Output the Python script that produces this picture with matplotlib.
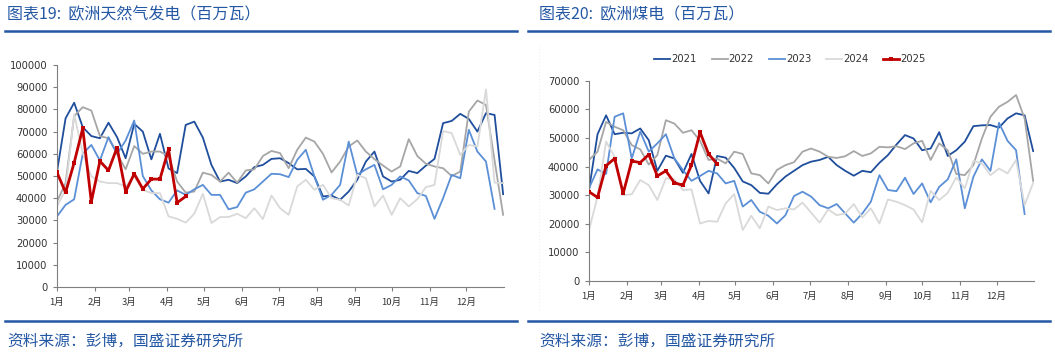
import matplotlib
matplotlib.use("Agg")
import matplotlib.pyplot as plt
from matplotlib.lines import Line2D
import numpy as np

plt.rcParams['font.family'] = ['DejaVu Sans', 'Noto Sans CJK SC']

# ---------------- data ----------------
years = ["2021", "2022", "2023", "2024", "2025"]
month_labels = ["1月", "2月", "3月", "4月", "5月", "6月", "7月", "8月", "9月", "10月", "11月", "12月"]
month_start_day = [0, 31, 59, 90, 120, 151, 181, 212, 243, 273, 304, 334]

gas_2021 = [52000, 76000, 83000, 72000, 68000, 67000, 74000, 67500, 58000, 73500, 70000, 57500, 69000,
            53400, 51300, 73000, 74500, 67300, 55000, 47500, 48300, 46800, 49800, 54000, 55000, 57700,
            58000, 55800, 53000, 53200, 49800, 40800, 41200, 39300, 43000, 48300, 56500, 61000, 49800,
            47500, 48300, 52300, 51300, 54700, 57700, 73800, 74800, 78000, 75700, 70000, 78300, 77500, 41800]
gas_2022 = [38500, 46800, 77000, 81000, 79500, 68000, 67000, 60000, 53000, 63500, 60000, 61000, 61000,
            59000, 47500, 42500, 43000, 51500, 50500, 47500, 51500, 47000, 52500, 53000, 59000, 61300,
            60300, 53500, 61800, 67300, 65500, 60000, 51600, 56500, 63300, 66000, 61000, 57600, 54700,
            52000, 54300, 66600, 59000, 55500, 54300, 53500, 50000, 52000, 79000, 84000, 82000, 57000, 32500]
gas_2023 = [31800, 37000, 39500, 60000, 64000, 57000, 67500, 60000, 66000, 75000, 50000, 43500, 39500,
            38000, 43500, 41500, 44000, 46000, 41500, 41500, 35000, 36000, 42500, 44000, 47500, 51000,
            50800, 49500, 57300, 61800, 49800, 39300, 41500, 46000, 65500, 50500, 53000, 55000, 44000,
            46000, 49800, 48000, 42300, 41000, 30700, 40000, 50500, 49000, 70800, 61000, 56500, 35200]
gas_2024 = [36300, 43800, 77800, 60300, 49800, 47500, 46800, 46800, 45300, 49800, 43800, 42300, 42300,
            31800, 30700, 29000, 33000, 42000, 28800, 31500, 31500, 33000, 31000, 35500, 30600, 41200,
            35500, 32500, 45300, 48300, 43800, 46000, 40000, 39300, 36700, 50500, 49000, 36300, 41200,
            32500, 40000, 36300, 39600, 45000, 46000, 70300, 69300, 59500, 64000, 63300, 89000, 47000, 46800]
gas_2025 = [51600, 42600, 56000, 71500, 38400, 56700, 52500, 62800, 43000, 51000, 44200, 48600, 48600,
            62000, 38000, 40800]

coal_2021 = [31800, 51300, 57900, 51300, 51800, 51600, 53300, 49200, 38500, 43800, 42800, 37800, 44400,
             35000, 30600, 43700, 43100, 39500, 34800, 33500, 30800, 30500, 33800, 36500, 38500, 40500,
             41700, 42300, 43400, 40500, 38500, 36800, 38500, 38000, 41300, 44000, 47700, 51000, 49800,
             45700, 46300, 52000, 43700, 45700, 48700, 54100, 54400, 54500, 53600, 56800, 58600, 57900, 45400]
coal_2022 = [42300, 45200, 55600, 53900, 52700, 47500, 46000, 40700, 44000, 56200, 55000, 51800, 52700,
             49000, 42300, 42800, 41100, 45200, 44400, 37600, 37000, 34100, 38800, 40500, 41500, 45200,
             46300, 45200, 43400, 43000, 43600, 45400, 43700, 44600, 46900, 46700, 47100, 46100, 48100,
             49000, 42300, 48100, 45700, 37400, 37000, 40500, 49800, 57400, 60900, 62600, 65000, 56800, 35000]
coal_2023 = [32400, 39000, 37400, 57400, 58600, 42800, 52200, 45200, 48100, 51300, 42800, 38800, 35000,
             36700, 38500, 37600, 34100, 35000, 26000, 28300, 24200, 22800, 20100, 23000, 29700, 31200,
             29500, 26500, 25400, 26900, 23600, 20400, 23600, 27700, 37000, 31800, 31400, 36100, 30400,
             34100, 27500, 32900, 35500, 42500, 25400, 36400, 42500, 38500, 55300, 49000, 45700, 23400]
coal_2024 = [17800, 29500, 48700, 43400, 30000, 30300, 35300, 33500, 28300, 35900, 35500, 31800, 32000,
             20100, 21000, 20700, 27100, 30400, 17800, 22800, 18400, 26000, 24800, 25400, 25000, 27400,
             23900, 20400, 25000, 23000, 23600, 26900, 22200, 25400, 20100, 28500, 27700, 26500, 25000,
             20500, 31500, 28300, 30800, 36200, 32400, 42000, 41100, 37000, 39300, 37600, 42300, 26500, 34300]
coal_2025 = [31200, 29200, 40300, 42800, 30600, 41900, 41400, 44200, 36700, 38500, 34300, 33500, 40500,
             52000, 44400, 40900]

gas_series = [gas_2021, gas_2022, gas_2023, gas_2024, gas_2025]
coal_series = [coal_2021, coal_2022, coal_2023, coal_2024, coal_2025]

# ---------------- style ----------------
colors = ["#1F4E9C", "#A6A6A6", "#5B8FD6", "#D9D9D9", "#C00000"]
widths = [1.3, 1.3, 1.3, 1.3, 2.0]
title_color = "#2457A4"
cjk = ['Noto Sans CJK SC', 'DejaVu Sans']

W, H = 1055, 354
fig = plt.figure(figsize=(W / 100, H / 100), dpi=100)


def fx(px):
    return px / W


def fy(py):
    return 1 - py / H


def draw_panel(ax, series, ymax, ystep):
    order = [3, 1, 2, 0, 4]
    for k in order:
        vals = series[k]
        x = np.arange(len(vals))
        if k == 4:
            ax.plot(x, vals, color=colors[k], lw=widths[k], marker='s', ms=3.2,
                    markeredgewidth=0, zorder=5)
        else:
            ax.plot(x, vals, color=colors[k], lw=widths[k], zorder=2 + k * 0.1)
    ax.set_xlim(0, 52.1)
    ax.set_ylim(0, ymax)
    ax.set_yticks(np.arange(0, ymax + 1, ystep))
    ax.set_xticks([d / 7 for d in month_start_day])
    ax.set_xticklabels(month_labels, family=cjk, fontsize=6.8, color="#333333")
    for s in ['top', 'right']:
        ax.spines[s].set_visible(False)
    for s in ['left', 'bottom']:
        ax.spines[s].set_color("#7F7F7F")
        ax.spines[s].set_linewidth(0.8)
    ax.tick_params(axis='both', direction='out', length=3, width=0.8, color="#7F7F7F")
    ax.tick_params(axis='y', labelsize=7.2, labelcolor="#333333", pad=4)
    ax.tick_params(axis='x', pad=5)


# left panel: gas
ax1 = fig.add_axes([fx(57), fy(287), fx(504 - 57), (287 - 65) / H])
draw_panel(ax1, gas_series, 100000, 10000)

# right panel: coal
ax2 = fig.add_axes([fx(589), fy(281), fx(1034 - 589), (281 - 80.7) / H])
draw_panel(ax2, coal_series, 70000, 10000)

handles = []
for k in range(5):
    if k == 4:
        handles.append(Line2D([], [], color=colors[k], lw=widths[k], marker='s', ms=3.2,
                              markeredgewidth=0))
    else:
        handles.append(Line2D([], [], color=colors[k], lw=widths[k]))
leg = fig.legend(handles, years, loc='center', bbox_to_anchor=(fx(790), fy(59)), ncol=5,
                 frameon=False, fontsize=7.2, handlelength=1.6, handletextpad=0.1,
                 columnspacing=1.5, borderaxespad=0)
for t in leg.get_texts():
    t.set_color("#333333")

# faint dotted frame edge of the right panel
fig.add_artist(Line2D([fx(539), fx(539)], [fy(45), fy(312)], color="#E6E6E6", lw=0.6,
                      ls=(0, (1, 3)), transform=fig.transFigure))

# titles and decoration lines
fig.text(fx(7), fy(15), "图表19:  欧洲天然气发电（百万瓦）", family=cjk, fontsize=11.5,
         color=title_color, va='center', ha='left')
fig.text(fx(539), fy(15), "图表20:  欧洲煤电（百万瓦）", family=cjk, fontsize=11.5,
         color=title_color, va='center', ha='left')

line_color = "#2457A4"
for (x0, x1) in [(5, 517), (528, 1050)]:
    fig.add_artist(Line2D([fx(x0), fx(x1)], [fy(31), fy(31)], color=line_color, lw=1.8,
                          transform=fig.transFigure))
    fig.add_artist(Line2D([fx(x0), fx(x1)], [fy(321), fy(321)], color=line_color, lw=1.8,
                          transform=fig.transFigure))

fig.text(fx(7), fy(341), "资料来源：彭博，国盛证券研究所", family=cjk, fontsize=11.3,
         color=title_color, va='center', ha='left')
fig.text(fx(539), fy(341), "资料来源：彭博，国盛证券研究所", family=cjk, fontsize=11.3,
         color=title_color, va='center', ha='left')

fig.savefig("out.png", dpi=100)
